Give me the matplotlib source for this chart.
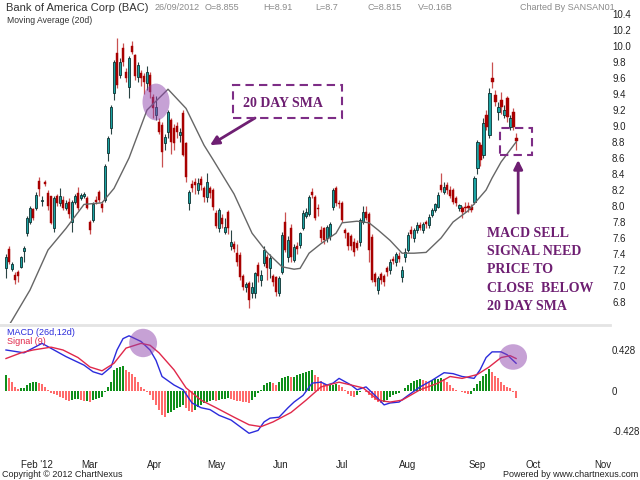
import matplotlib
matplotlib.use("Agg")
import matplotlib.pyplot as plt
from matplotlib.patches import Ellipse, Rectangle
import numpy as np

# ---------------- data ----------------
opens = [7.22,7.46,7.21,7.14,7.18,7.24,7.44,7.66,7.80,7.96,7.97,8.31,8.06,8.30,8.16,8.12,7.72,8.12,8.04,8.07,
         7.97,8.05,7.80,8.05,8.16,8.10,8.12,8.10,7.80,7.83,8.07,8.17,8.02,8.07,8.66,8.97,9.41,9.91,9.64,9.98,
         9.68,9.49,10.00,9.89,9.61,9.66,9.62,9.54,9.64,9.36,9.14,9.05,9.01,8.79,8.92,9.08,8.97,9.00,8.89,9.16,
         8.79,8.04,8.28,8.30,8.20,8.34,8.22,8.11,8.22,8.20,7.91,7.73,7.85,7.68,7.92,7.50,7.52,7.41,7.39,7.12,
         6.99,7.04,6.91,6.91,7.26,7.08,7.29,7.36,7.22,7.12,7.11,6.91,7.17,7.80,7.36,7.73,7.33,7.50,7.51,7.73,
         7.88,7.90,8.18,8.11,7.98,7.70,7.72,7.60,7.62,7.99,8.22,8.04,8.04,7.70,7.66,7.62,7.55,7.54,7.55,7.80,
         7.93,7.90,7.61,7.15,6.95,7.15,7.12,7.22,7.20,7.34,7.30,7.38,7.11,7.36,7.45,7.70,7.60,7.70,7.76,7.70,
         7.80,7.76,7.89,7.95,7.99,8.26,8.18,8.26,8.20,8.20,8.10,7.97,7.97,7.99,8.00,7.99,8.05,8.47,8.76,8.64,
         9.14,8.89,9.60,9.39,9.18,9.33,9.14,9.35,8.99,9.18,8.855]
highs = [7.40,7.50,7.30,7.17,7.20,7.38,7.50,7.88,8.00,7.98,8.17,8.36,8.12,8.32,8.20,8.13,8.12,8.15,8.22,8.12,
         8.08,8.10,8.08,8.15,8.24,8.16,8.17,8.12,7.82,8.05,8.12,8.20,8.06,8.52,8.88,9.26,9.82,10.10,9.85,10.04,
         9.72,9.87,10.06,9.90,9.80,9.70,9.66,9.75,9.68,9.40,9.38,9.10,9.05,8.90,9.20,9.10,9.02,9.05,8.97,9.20,
         8.80,8.20,8.32,8.35,8.35,8.38,8.25,8.41,8.25,8.22,7.95,7.98,7.90,7.85,7.95,7.70,7.56,7.52,7.42,7.15,
         7.05,7.06,7.05,7.18,7.30,7.20,7.50,7.40,7.40,7.15,7.13,7.13,7.68,7.92,7.62,7.78,7.52,7.55,7.68,7.95,
         7.98,8.14,8.22,8.14,8.02,7.75,7.74,7.76,7.80,8.22,8.25,8.08,8.06,7.73,7.68,7.65,7.60,7.58,7.85,8.00,
         8.00,7.93,7.65,7.18,7.12,7.18,7.15,7.25,7.34,7.38,7.42,7.42,7.25,7.48,7.67,7.75,7.72,7.80,7.80,7.80,
         7.83,7.90,7.98,8.04,8.17,8.41,8.30,8.30,8.25,8.22,8.12,8.03,8.00,8.05,8.05,8.02,8.38,8.82,8.80,9.10,
         9.20,9.48,9.80,9.45,9.30,9.42,9.26,9.38,9.14,9.22,8.91]
lows = [7.10,7.27,7.19,7.02,7.05,7.22,7.30,7.62,7.78,7.82,7.95,8.12,8.00,8.25,7.95,7.78,7.68,8.00,8.00,7.95,
        7.95,7.85,7.68,8.02,7.95,8.08,8.10,7.96,7.65,7.80,8.02,8.05,7.93,8.05,8.56,8.90,9.33,9.48,9.60,9.75,
        9.55,9.35,9.90,9.58,9.55,9.50,9.40,9.45,9.35,9.10,9.08,8.90,8.49,8.70,8.85,8.65,8.70,8.85,8.80,8.62,
        8.30,7.95,8.18,8.15,8.15,8.20,8.05,8.05,8.10,7.95,7.72,7.68,7.72,7.65,7.65,7.45,7.42,7.25,7.08,6.95,
        6.92,6.73,6.85,6.85,7.05,7.00,7.25,7.08,7.10,7.00,6.88,6.88,7.15,7.42,7.30,7.30,7.30,7.40,7.48,7.70,
        7.85,7.88,8.10,7.82,7.88,7.55,7.52,7.55,7.58,7.95,8.00,7.98,7.80,7.60,7.45,7.45,7.38,7.45,7.50,7.78,
        7.82,7.30,7.05,7.00,6.90,7.02,7.00,7.12,7.15,7.28,7.25,7.30,7.05,7.30,7.42,7.60,7.55,7.66,7.70,7.66,
        7.72,7.72,7.86,7.93,7.97,8.18,8.15,8.15,8.10,8.02,8.00,7.94,7.85,7.92,7.92,7.93,8.02,8.40,8.50,8.60,
        8.95,8.85,9.48,9.25,9.08,9.15,9.10,9.05,8.95,8.95,8.70]
closes = [7.36,7.30,7.28,7.07,7.12,7.36,7.47,7.85,7.97,7.85,8.14,8.21,8.08,8.27,8.00,7.79,8.10,8.04,8.12,7.98,
          8.04,7.90,8.05,8.13,7.98,8.14,8.15,7.98,7.70,8.02,8.05,8.07,7.98,8.50,8.85,9.24,9.80,9.51,9.80,9.80,
          9.60,9.85,9.93,9.62,9.76,9.60,9.55,9.68,9.43,9.22,9.24,8.92,8.68,8.86,9.18,8.80,8.79,8.93,8.93,8.64,
          8.36,8.17,8.22,8.26,8.29,8.26,8.11,8.30,8.16,7.99,7.75,7.95,7.77,7.74,7.73,7.55,7.46,7.30,7.11,6.99,
          7.03,6.83,6.99,7.16,7.12,7.14,7.45,7.22,7.35,7.05,6.92,7.10,7.64,7.45,7.58,7.36,7.49,7.46,7.66,7.91,
          7.93,8.11,8.14,7.85,7.96,7.60,7.58,7.74,7.78,8.20,8.04,8.02,7.82,7.66,7.50,7.50,7.42,7.48,7.82,7.92,
          7.85,7.45,7.08,7.05,7.10,7.08,7.05,7.18,7.30,7.31,7.40,7.34,7.20,7.43,7.64,7.65,7.70,7.76,7.73,7.77,
          7.77,7.86,7.95,8.02,8.14,8.20,8.24,8.20,8.12,8.05,8.04,8.01,7.92,7.97,7.97,7.95,8.35,8.80,8.58,9.04,
          8.99,9.41,9.55,9.30,9.24,9.24,9.20,9.11,9.10,8.99,8.815]

# 20-day SMA read at sampled trading days
sma_day = [0, 2, 8, 14, 20, 26, 32, 36, 41, 47, 54, 60, 66, 69, 76, 82, 87, 92, 96, 98, 101, 105, 110, 112,
           117, 121, 124, 128, 132, 136, 140, 145, 149, 154, 157, 160, 162, 165, 170]
sma_val = [6.45, 6.57, 6.95, 7.45, 7.72, 8.02, 8.04, 8.22, 8.60, 9.20, 9.46, 9.22, 8.76, 8.58, 8.15, 7.66, 7.42,
           7.24, 7.21, 7.22, 7.41, 7.53, 7.66, 7.79, 7.81, 7.79, 7.70, 7.57, 7.41, 7.41, 7.42, 7.60, 7.80, 7.94,
           8.07, 8.20, 8.35, 8.55, 8.80]

# MACD & signal read at sampled trading days
macd_day = [0, 2, 6, 9, 12, 16, 20, 26, 29, 32, 35, 37, 39, 41, 45, 48, 50, 52, 56, 59, 62, 65, 68, 71, 75, 78,
            81, 84, 86, 88, 91, 94, 96, 99, 102, 105, 107, 109, 111, 115, 117, 120, 123, 126, 128, 131, 134, 138,
            142, 146, 149, 152, 156, 158, 160, 162, 165, 167, 170]
macd_val = [0.43, 0.42, 0.40, 0.45, 0.50, 0.43, 0.36, 0.27, 0.20, 0.17, 0.25, 0.43, 0.55, 0.58, 0.52, 0.43, 0.32,
            0.15, 0.06, 0.01, -0.13, -0.18, -0.20, -0.26, -0.31, -0.38, -0.45, -0.42, -0.33, -0.29, -0.28, -0.18,
            -0.12, -0.05, 0.08, 0.09, 0.06, 0.08, 0.13, 0.06, 0.01, 0.04, -0.05, -0.15, -0.13, -0.12, -0.05, 0.04,
            0.11, 0.19, 0.18, 0.15, 0.13, 0.22, 0.35, 0.41, 0.41, 0.38, 0.29]
signal_day = [0, 5, 9, 15, 19, 24, 28, 32, 36, 40, 45, 48, 51, 56, 60, 65, 70, 76, 81, 85, 89, 95, 100, 105,
              111, 119, 124, 128, 132, 138, 144, 148, 152, 157, 161, 165, 168, 170]
signal_val = [0.34, 0.40, 0.43, 0.46, 0.43, 0.35, 0.25, 0.21, 0.29, 0.45, 0.50, 0.48, 0.40, 0.22, 0.03, -0.10,
              -0.18, -0.28, -0.36, -0.38, -0.33, -0.23, -0.10, 0.04, 0.09, 0.03, -0.10, -0.12, -0.10, 0.01, 0.08,
              0.15, 0.13, 0.17, 0.25, 0.35, 0.37, 0.34]

# MACD histogram, one bar per trading day
hist = [0.165,0.13,0.095,0.042,0.018,0.025,0.025,0.06,0.085,0.095,0.095,0.085,0.07,0.042,0.007,-0.021,-0.035,
        -0.046,-0.063,-0.081,-0.099,-0.106,-0.099,-0.092,-0.092,-0.099,-0.109,-0.106,-0.116,-0.099,-0.092,-0.081,
        -0.063,-0.011,0.042,0.095,0.218,0.236,0.253,0.26,0.218,0.2,0.176,0.148,0.095,0.042,0.014,-0.011,-0.046,
        -0.099,-0.151,-0.204,-0.257,-0.275,-0.239,-0.222,-0.204,-0.187,-0.169,-0.151,-0.187,-0.211,-0.222,-0.204,
        -0.176,-0.151,-0.134,-0.116,-0.106,-0.099,-0.106,-0.099,-0.092,-0.092,-0.081,-0.092,-0.099,-0.106,-0.113,
        -0.116,-0.123,-0.127,-0.099,-0.063,-0.028,0.007,0.06,0.077,0.095,0.077,0.06,0.095,0.13,0.148,0.155,0.141,
        0.148,0.165,0.176,0.183,0.2,0.211,0.218,0.165,0.14,0.10,0.07,0.045,0.055,0.065,0.075,0.06,0.035,0.01,
        -0.03,-0.055,-0.07,-0.045,-0.01,0.0,-0.01,-0.045,-0.08,-0.1,-0.12,-0.13,-0.12,-0.1,-0.07,-0.045,-0.03,
        -0.02,0.0,0.025,0.06,0.085,0.1,0.11,0.12,0.11,0.1,0.095,0.11,0.12,0.125,0.13,0.12,0.095,0.06,0.025,0.01,
        -0.005,-0.01,-0.02,-0.03,-0.03,0.025,0.075,0.1,0.15,0.18,0.225,0.2,0.15,0.13,0.095,0.06,0.04,0.025,
        -0.01,-0.08]

month_labels = ["Feb '12", "Mar", "Apr", "May", "Jun", "Jul", "Aug", "Sep", "Oct", "Nov"]
month_start_day = [5, 25, 47, 67, 89, 110, 131, 154, 173, 196]

price_ticks = [6.8, 7.0, 7.2, 7.4, 7.6, 7.8, 8.0, 8.2, 8.4, 8.6, 8.8, 9.0, 9.2, 9.4, 9.6, 9.8, 10.0, 10.2, 10.4]
macd_ticks = [0.428, 0.0, -0.428]
macd_tick_labels = ["0.428", "0", "-0.428"]

# ---------------- figure ----------------
plt.rcParams['font.family'] = ['Liberation Sans', 'DejaVu Sans']
W, H = 640, 480
fig = plt.figure(figsize=(6.4, 4.8), dpi=100)

def fx(px):
    return px / W

def fy(py):
    return 1 - py / H

ax = fig.add_axes([0, fy(323), fx(610), 323 / H])
axm = fig.add_axes([0, fy(456), fx(610), (456 - 325) / H], sharex=ax)

n = len(closes)
days = np.arange(n)
o = np.array(opens); h = np.array(highs); l = np.array(lows); c = np.array(closes)
up = c >= o
teal, teal_edge = '#1aa3a3', '#0c3030'
red, red_wick = '#a80000', '#c95050'

# wicks
ax.vlines(days[up], l[up], h[up], color='#2a4444', lw=0.8, zorder=2)
ax.vlines(days[~up], l[~up], h[~up], color=red_wick, lw=0.9, zorder=2)
# bodies
body_lo = np.minimum(o, c)
body_h = np.maximum(np.abs(c - o), 0.02)
ax.bar(days[up], body_h[up], bottom=body_lo[up], width=0.95, color=teal, edgecolor=teal_edge,
       linewidth=0.6, zorder=3)
ax.bar(days[~up], body_h[~up], bottom=body_lo[~up], width=0.95, color=red, edgecolor=red,
       linewidth=0.3, zorder=3)
# SMA
ax.plot(sma_day, sma_val, color='#666666', lw=1.0, zorder=4)

ax.set_xlim(-2, 201.3)
ax.set_ylim(10.4 - (323 - 14) / 80, 10.4 + 14 / 80)
ax.yaxis.tick_right()
ax.set_yticks(price_ticks)
ax.set_yticklabels([f"{v:.1f}" for v in price_ticks])
ax.tick_params(axis='y', length=0, pad=1.5, labelsize=7, colors='#222222')
ax.tick_params(axis='x', length=0, labelbottom=False)
for s in ax.spines.values():
    s.set_visible(False)

# annotations on main chart
purple = '#6e1f72'
ax.add_patch(Ellipse((50, 9.30), 9.0, 0.46, facecolor='#8e44ad', alpha=0.5, edgecolor='none', zorder=6))
ax.add_patch(Rectangle((75.7, 9.1), 36.3, 0.41, fill=False, edgecolor='#7d2d86', lw=1.5,
                       linestyle=(0, (4, 2.5)), zorder=6))
ax.text(79, 9.2375, "20 DAY SMA", family=['Liberation Serif', 'DejaVu Serif'], fontweight='bold',
        fontsize=10, color=purple, va='baseline', ha='left', zorder=7)
ax.annotate('', xy=(68, 8.76), xytext=(83, 9.1),
            arrowprops=dict(arrowstyle='-|>', color=purple, lw=2, mutation_scale=13, shrinkA=0, shrinkB=0))
ax.add_patch(Rectangle((164.7, 8.6375), 10.6, 0.3375, fill=False, edgecolor='#7d2d86', lw=1.5,
                       linestyle=(0, (4, 2.5)), zorder=6))
ax.annotate('', xy=(170.7, 8.575), xytext=(170.7, 7.91),
            arrowprops=dict(arrowstyle='-|>', color=purple, lw=2, mutation_scale=13, shrinkA=0, shrinkB=0))
note_lines = ["MACD SELL", "SIGNAL NEED", "PRICE TO", "CLOSE  BELOW", "20 DAY SMA"]
note_base = [7.6125, 7.3875, 7.1625, 6.925, 6.70]
for txt, yb in zip(note_lines, note_base):
    ax.text(160.3, yb, txt, family=['Liberation Serif', 'DejaVu Serif'], fontweight='bold', fontsize=10,
            color=purple, va='baseline', ha='left', zorder=7)

# ---------------- MACD panel ----------------
hv = np.array(hist)
prev = np.concatenate([[hv[0] - 1], hv[:-1]])
hcol = np.where(hv >= prev, '#0f8f1a', '#ff6b6b')
axm.bar(days, hv, width=0.7, color=hcol, linewidth=0, zorder=2)
axm.plot(macd_day, macd_val, color='#2b2bdc', lw=1.0, zorder=3)
axm.plot(signal_day, signal_val, color='#e0284a', lw=1.0, zorder=3)
axm.add_patch(Ellipse((45.7, 0.504), 9.3, 0.30, facecolor='#8e44ad', alpha=0.5, edgecolor='none', zorder=5))
axm.add_patch(Ellipse((169, 0.356), 9.3, 0.27, facecolor='#8e44ad', alpha=0.5, edgecolor='none', zorder=5))

axm.set_ylim(-0.69, 0.694)
axm.yaxis.tick_right()
axm.set_yticks(macd_ticks)
axm.set_yticklabels(macd_tick_labels)
axm.tick_params(axis='y', length=0, pad=1.5, labelsize=7, colors='#222222')
axm.set_xticks(month_start_day)
axm.set_xticklabels(month_labels, ha='left')
axm.tick_params(axis='x', length=0, pad=3, labelsize=7, colors='#222222')
for name, s in axm.spines.items():
    s.set_visible(name == 'top')
axm.spines['top'].set_color('#e4e4e4')
axm.spines['top'].set_linewidth(2)

fig.text(fx(7), fy(335), "MACD (26d,12d)", color='#2b2bdc', fontsize=6.5, va='baseline')
fig.text(fx(7), fy(344), "Signal (9)", color='#e0284a', fontsize=6.5, va='baseline')

# ---------------- header / footer ----------------
fig.text(fx(6), fy(11), "Bank of America Corp (BAC)", fontsize=8, color='#333333', va='baseline')
hdr = [(155, "26/09/2012"), (205, "O=8.855"), (263, "H=8.91"), (315, "L=8.7"), (367, "C=8.815"),
       (418, "V=0.16B"), (520, "Charted By SANSAN01")]
for xp, t in hdr:
    fig.text(fx(xp), fy(10), t, fontsize=6.5, color='#8a8a8a', va='baseline')
fig.text(fx(7), fy(23), "Moving Average (20d)", fontsize=6.2, color='#333333', va='baseline')
fig.text(fx(2), fy(477), "Copyright \u00a9 2012 ChartNexus", fontsize=6.5, color='#222222', va='baseline')
fig.text(fx(638), fy(477), "Powered by www.chartnexus.com", fontsize=6.5, color='#222222',
         va='baseline', ha='right')

fig.savefig("out.png", dpi=100)
